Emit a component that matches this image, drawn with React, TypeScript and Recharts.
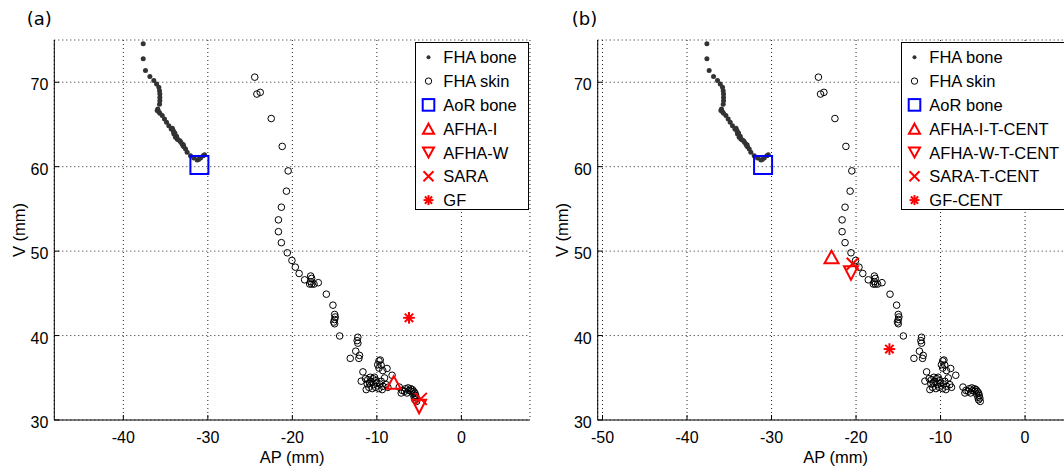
import React from 'react';
import { ScatterChart, Scatter, XAxis, YAxis, CartesianGrid, Legend } from 'recharts';

const FONT = '"Liberation Sans", Arial, Helvetica, sans-serif';

// FHA bone (AP, V) in mm
const fhaBoneAP = [
  -37.65, -37.65, -37.38, -36.86, -36.39, -36.07, -35.8, -35.72, -35.68, -35.68, -35.68, -35.72,
  -35.92, -36.0, -35.8, -35.68, -35.4, -35.13, -34.89, -34.62, -34.34, -34.2, -34.1, -34.05,
  -34.02, -33.83, -33.7, -33.63, -33.31, -33.2, -33.04, -32.95, -32.84, -32.64, -32.45, -32.05,
  -31.66, -31.26, -31.1, -30.87, -30.55, -30.39, -33.9, -33.5, -32.9,
];
const fhaBoneV = [
  74.55, 72.77, 71.38, 70.67, 70.2, 69.8, 69.4, 69.0, 68.6, 68.2, 67.8, 67.4,
  66.84, 66.64, 66.5, 66.32, 66.05, 65.65, 65.26, 64.86, 64.47, 64.55, 64.27, 64.1,
  63.87, 63.48, 63.6, 63.28, 63.08, 62.9, 62.69, 62.5, 62.37, 62.1, 61.7, 61.3,
  61.03, 60.79, 60.85, 61.03, 61.3, 61.42, 64.0, 63.2, 62.6,
];

// FHA skin (AP, V) in mm
const fhaSkinAP = [
  -24.45, -24.2, -23.8, -22.5, -21.2, -20.5, -20.7, -21.3, -21.65, -21.65, -21.3, -20.6,
  -20.05, -19.65, -19.2, -18.55, -17.83, -17.72, -17.83, -17.72, -17.95, -17.44, -16.93, -15.98,
  -15.2, -15.0, -14.93, -15.0, -15.1, -15.0, -14.4, -12.25, -12.33, -12.25, -12.5, -12.05,
  -12.13, -13.15, -11.65, -11.85, -11.35, -11.07, -10.87, -10.67, -10.47, -10.28, -10.08, -10.0,
  -10.95, -11.26, -10.55, -10.16, -9.68, -9.49, -9.29, -9.09, -8.9, -8.7, -9.76, -9.37,
  -10.39, -10.79, -11.14, -9.75, -9.6, -9.9, -9.5, -9.75, -9.3, -8.8, -8.2, -7.35,
  -7.0, -6.6, -6.3, -6.0, -5.8, -5.65, -5.5, -5.42, -5.35, -5.5, -5.3, -5.94,
  -6.45, -7.12, -6.72, -6.2, -5.74, -5.58,
];
const fhaSkinV = [
  70.6, 68.6, 68.8, 65.7, 62.4, 59.5, 57.1, 55.2, 53.7, 52.3, 51.0, 49.8,
  48.9, 48.1, 47.35, 46.6, 47.05, 46.77, 46.38, 46.1, 46.1, 46.1, 46.26, 44.9,
  43.6, 42.5, 42.2, 41.9, 41.6, 41.4, 39.95, 39.8, 39.4, 39.1, 38.15, 37.65,
  37.3, 37.3, 35.7, 34.6, 34.9, 34.78, 34.39, 34.58, 34.9, 35.06, 34.66, 34.39,
  33.87, 33.6, 33.72, 33.87, 34.27, 34.58, 33.99, 34.98, 34.19, 33.87, 33.72, 33.6,
  34.19, 35.06, 34.27, 37.0, 37.1, 36.55, 36.5, 36.15, 35.85, 36.1, 35.3, 33.9,
  33.5, 33.7, 33.8, 33.7, 33.6, 33.4, 33.2, 32.92, 32.6, 32.4, 32.2, 33.4,
  33.2, 33.2, 33.4, 33.5, 33.08, 32.7,
];

// AoR bone
const aorBoneAP = [-31.0];
const aorBoneV = [60.2];

// Panel (a) estimates: AFHA-I, AFHA-W, SARA, GF
const estAP_A = [-8.0, -5.0, -4.8, -6.2];
const estV_A = [34.45, 31.6, 32.5, 42.1];
// Panel (b) estimates: AFHA-I-T-CENT, AFHA-W-T-CENT, SARA-T-CENT, GF-CENT
const estAP_B = [-22.9, -20.6, -20.4, -16.05];
const estV_B = [49.3, 47.4, 48.5, 38.4];

const labelsA = ['FHA bone', 'FHA skin', 'AoR bone', 'AFHA-I', 'AFHA-W', 'SARA', 'GF'];
const labelsB = ['FHA bone', 'FHA skin', 'AoR bone', 'AFHA-I-T-CENT', 'AFHA-W-T-CENT', 'SARA-T-CENT', 'GF-CENT'];

const xTicksA = [-40, -30, -20, -10, 0];
const xTicksB = [-50, -40, -30, -20, -10, 0];
const yTicks = [30, 40, 50, 60, 70];
const xDomainA: [number, number] = [-48.17, 8.12];
const xDomainB: [number, number] = [-50.57, 5.72];
const yDomain: [number, number] = [30, 75];

const kinds = ['dot', 'circle', 'square', 'triUp', 'triDown', 'x', 'star'];

const pts = (ap: number[], v: number[]) => ap.map((a, i) => ({ ap: a, v: v[i] }));
const one = (ap: number[], v: number[], i: number) => [{ ap: ap[i], v: v[i] }];

function Marker({ kind, cx, cy, leg }: { kind: string; cx: number; cy: number; leg?: boolean }) {
  const red = '#ff0000';
  if (cx == null || cy == null) return null;
  switch (kind) {
    case 'dot':
      return <circle cx={cx} cy={cy} r={leg ? 2 : 2.5} fill="#333" />;
    case 'circle':
      return <circle cx={cx} cy={cy} r={leg ? 3.2 : 3.3} fill="none" stroke="#000" strokeWidth={1} />;
    case 'square': {
      const h = leg ? 5.8 : 9;
      return <rect x={cx - h} y={cy - h} width={2 * h} height={2 * h} fill="none" stroke="#0000ff" strokeWidth={2} />;
    }
    case 'triUp': {
      const w = leg ? 5.5 : 7;
      const h = leg ? 5 : 6.3;
      return <polygon points={`${cx},${cy - h} ${cx + w},${cy + h} ${cx - w},${cy + h}`} fill="none" stroke={red} strokeWidth={2} />;
    }
    case 'triDown': {
      const w = leg ? 5.5 : 7;
      const h = leg ? 5 : 6.8;
      return <polygon points={`${cx},${cy + h} ${cx + w},${cy - h} ${cx - w},${cy - h}`} fill="none" stroke={red} strokeWidth={2} />;
    }
    case 'x': {
      const h = leg ? 5 : 6;
      return (
        <g stroke={red} strokeWidth={2}>
          <line x1={cx - h} y1={cy - h} x2={cx + h} y2={cy + h} />
          <line x1={cx - h} y1={cy + h} x2={cx + h} y2={cy - h} />
        </g>
      );
    }
    case 'star': {
      const h = leg ? 5 : 5.8;
      const d = h * 0.72;
      return (
        <g stroke={red} strokeWidth={2}>
          <line x1={cx - h} y1={cy} x2={cx + h} y2={cy} />
          <line x1={cx} y1={cy - h} x2={cx} y2={cy + h} />
          <line x1={cx - d} y1={cy - d} x2={cx + d} y2={cy + d} />
          <line x1={cx - d} y1={cy + d} x2={cx + d} y2={cy - d} />
        </g>
      );
    }
    default:
      return null;
  }
}

const BottomTick = (p: any) => (
  <g>
    <line x1={p.x} y1={p.y} x2={p.x} y2={p.y - 5} stroke="#000" />
    <text x={p.x} y={p.y + 23.3} textAnchor="middle" fontSize={16} fontFamily={FONT} fill="#000">
      {p.payload.value}
    </text>
  </g>
);
const TopTick = (p: any) => <line x1={p.x} y1={p.y} x2={p.x} y2={p.y + 5} stroke="#000" />;
const LeftTick = (p: any) => (
  <g>
    <line x1={p.x} y1={p.y} x2={p.x + 5} y2={p.y} stroke="#000" />
    <text x={p.x - 6} y={p.y + 8} textAnchor="end" fontSize={16} fontFamily={FONT} fill="#000">
      {p.payload.value}
    </text>
  </g>
);
const RightTick = (p: any) => <line x1={p.x} y1={p.y} x2={p.x - 5} y2={p.y} stroke="#000" />;

const makeLegend = (labels: string[], width: number) => () => (
  <svg width={width} height={168} style={{ display: 'block' }}>
    <rect x={0.5} y={0.5} width={width - 1} height={167} fill="#fff" stroke="#000" />
    {labels.map((lab, i) => {
      const cy = 15.3 + 23.8 * i;
      return (
        <g key={lab}>
          <Marker kind={kinds[i]} cx={13.5} cy={cy} leg />
          <text x={28.3} y={cy + 6} fontSize={16.5} fontFamily={FONT} fill="#000">
            {lab}
          </text>
        </g>
      );
    })}
  </svg>
);

function Panel({
  width, yAxisWidth, marginRight, xDomain, xTicks, estAP, estV, labels, legendLeft, legendWidth,
}: any) {
  const xLabel = (p: any) => {
    const vb = p.viewBox || {};
    return (
      <text x={vb.x + vb.width / 2} y={462.7} textAnchor="middle" fontSize={16.5} fontFamily={FONT} fill="#000">
        AP (mm)
      </text>
    );
  };
  const yLabel = () => {
    const x = yAxisWidth - 29.5;
    const y = 230;
    return (
      <text x={x} y={y} transform={`rotate(-90 ${x} ${y})`} textAnchor="middle" fontSize={16.5} fontFamily={FONT} fill="#000">
        V (mm)
      </text>
    );
  };
  const axisCommon = {
    type: 'number' as const,
    allowDataOverflow: true,
    interval: 0 as const,
    tickSize: 0,
    tickMargin: 0,
    tickLine: false,
    axisLine: { stroke: '#000', strokeWidth: 1 },
  };
  return (
    <ScatterChart width={width} height={470} margin={{ top: 40, right: marginRight, bottom: 0, left: 0 }}>
      <CartesianGrid xAxisId="x" yAxisId="y" stroke="#222" strokeDasharray="1 3" fill="none" />
      <XAxis xAxisId="x" dataKey="ap" domain={xDomain} ticks={xTicks} height={50} tick={<BottomTick />} label={xLabel} {...axisCommon} />
      <XAxis xAxisId="xt" dataKey="ap" orientation="top" domain={xDomain} ticks={xTicks} height={0} tick={<TopTick />} {...axisCommon} />
      <YAxis yAxisId="y" dataKey="v" domain={yDomain} ticks={yTicks} width={yAxisWidth} tick={<LeftTick />} label={yLabel} {...axisCommon} />
      <YAxis yAxisId="yr" dataKey="v" orientation="right" domain={yDomain} ticks={yTicks} width={0} tick={<RightTick />} {...axisCommon} />
      <Scatter name={labels[0]} xAxisId="x" yAxisId="y" data={pts(fhaBoneAP, fhaBoneV)} isAnimationActive={false}
        shape={(p: any) => <Marker kind="dot" cx={p.cx} cy={p.cy} />} />
      <Scatter name={labels[1]} xAxisId="x" yAxisId="y" data={pts(fhaSkinAP, fhaSkinV)} isAnimationActive={false}
        shape={(p: any) => <Marker kind="circle" cx={p.cx} cy={p.cy} />} />
      <Scatter name={labels[2]} xAxisId="x" yAxisId="y" data={pts(aorBoneAP, aorBoneV)} isAnimationActive={false}
        shape={(p: any) => <Marker kind="square" cx={p.cx} cy={p.cy} />} />
      <Scatter name={labels[3]} xAxisId="x" yAxisId="y" data={one(estAP, estV, 0)} isAnimationActive={false}
        shape={(p: any) => <Marker kind="triUp" cx={p.cx} cy={p.cy} />} />
      <Scatter name={labels[4]} xAxisId="x" yAxisId="y" data={one(estAP, estV, 1)} isAnimationActive={false}
        shape={(p: any) => <Marker kind="triDown" cx={p.cx} cy={p.cy} />} />
      <Scatter name={labels[5]} xAxisId="x" yAxisId="y" data={one(estAP, estV, 2)} isAnimationActive={false}
        shape={(p: any) => <Marker kind="x" cx={p.cx} cy={p.cy} />} />
      <Scatter name={labels[6]} xAxisId="x" yAxisId="y" data={one(estAP, estV, 3)} isAnimationActive={false}
        shape={(p: any) => <Marker kind="star" cx={p.cx} cy={p.cy} />} />
      <Legend layout="vertical" align="center" verticalAlign="middle" width={legendWidth} height={168}
        wrapperStyle={{ left: legendLeft, top: 42, width: legendWidth, height: 168, margin: 0, padding: 0 }}
        content={makeLegend(labels, legendWidth)} />
    </ScatterChart>
  );
}

export default function App() {
  return (
    <div style={{ position: 'absolute', left: 0, top: 0, width: 1064, height: 470, overflow: 'hidden', background: '#fff' }}>
      <div style={{ position: 'absolute', left: 0, top: 0 }}>
        <Panel width={540} yAxisWidth={54.3} marginRight={10} xDomain={xDomainA} xTicks={xTicksA}
          estAP={estAP_A} estV={estV_A} labels={labelsA} legendLeft={415} legendWidth={114} />
      </div>
      <div style={{ position: 'absolute', left: 530, top: 0 }}>
        <Panel width={560} yAxisWidth={67.7} marginRight={16.6} xDomain={xDomainB} xTicks={xTicksB}
          estAP={estAP_B} estV={estV_B} labels={labelsB} legendLeft={371} legendWidth={172} />
      </div>
      <svg width={1064} height={40} style={{ position: 'absolute', left: 0, top: 0, pointerEvents: 'none' }}>
        <text x={26.7} y={25} fontSize={18} fontFamily='"DejaVu Sans", sans-serif' fill="#000">(a)</text>
        <text x={571.7} y={25} fontSize={18} fontFamily='"DejaVu Sans", sans-serif' fill="#000">(b)</text>
      </svg>
    </div>
  );
}
